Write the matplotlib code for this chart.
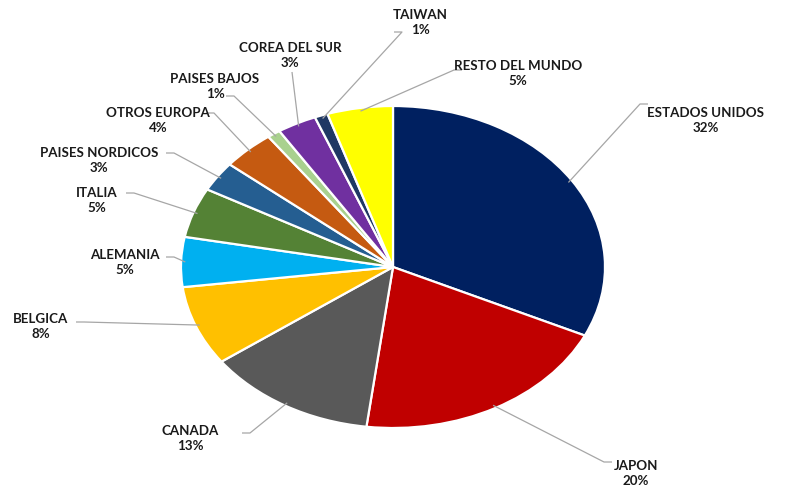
import numpy as np
import matplotlib
matplotlib.use("Agg")
import matplotlib.pyplot as plt

labels = ["ESTADOS UNIDOS", "JAPON", "CANADA", "BELGICA", "ALEMANIA", "ITALIA",
          "PAISES NORDICOS", "OTROS EUROPA", "PAISES BAJOS", "COREA DEL SUR",
          "TAIWAN", "RESTO DEL MUNDO"]
values = [32, 20, 13, 8, 5, 5, 3, 4, 1, 3, 1, 5]
colors = ["#002060", "#C00000", "#595959", "#FFC000", "#00B0F0", "#548235",
          "#255E91", "#C55A11", "#A9D18E", "#7030A0", "#1F3864", "#FFFF00"]

W, H = 788, 491
fig = plt.figure(figsize=(W / 100, H / 100), dpi=100)
fig.patch.set_facecolor("white")

# pie geometry in pixels (the reference pie is an ellipse)
cx, cy, rx, ry = 393, 267, 212, 161
axp = fig.add_axes([(cx - rx) / W, (H - cy - ry) / H, 2 * rx / W, 2 * ry / H])
axp.pie(values, colors=colors, startangle=90, counterclock=False, radius=1,
        wedgeprops=dict(edgecolor="white", linewidth=1.6))
axp.set_aspect("auto")
axp.set_xlim(-1, 1)
axp.set_ylim(-1, 1)
axp.axis("off")

# overlay axes in pixel coordinates for labels and leader lines
ax = fig.add_axes([0, 0, 1, 1], zorder=5)
ax.set_xlim(0, W)
ax.set_ylim(H, 0)
ax.axis("off")

# label layout: (text center x, first line y, leader end x, leader end y)
layout = {
    "ESTADOS UNIDOS": (706, 112, 648, 104),
    "JAPON": (636, 465, 612, 462),
    "CANADA": (190, 430, 242, 433),
    "BELGICA": (41, 318, 76, 322),
    "ALEMANIA": (125, 254, 166, 257),
    "ITALIA": (97, 192, 126, 193),
    "PAISES NORDICOS": (99, 152, 166, 153),
    "OTROS EUROPA": (158, 112, 206, 113),
    "PAISES BAJOS": (215, 78, 234, 96),
    "COREA DEL SUR": (290, 47, 292, 72),
    "TAIWAN": (420, 14, 402, 32),
    "RESTO DEL MUNDO": (518, 65, 462, 70),
}

total = sum(values)
angle = 90.0
font = dict(family=["Lato", "DejaVu Sans"], fontsize=9.6, fontweight="bold",
            color="#1A1A1A")
for lab, v in zip(labels, values):
    span = 360.0 * v / total
    mid = np.deg2rad(angle - span / 2)
    angle -= span
    tx, ty, ex, ey = layout[lab]
    px = cx + 0.98 * rx * np.cos(mid)
    py = cy - 0.98 * ry * np.sin(mid)
    if lab == "COREA DEL SUR":
        xs, ys = [ex, px], [ey, py]
    elif lab in ("PAISES BAJOS", "TAIWAN"):
        xs, ys = [ex - 8, ex, px], [ey, ey, py]
    else:
        hx = ex + 8 if ex > tx else ex - 8
        xs, ys = [ex, hx, px], [ey, ey, py]
    ax.plot(xs, ys, color="#A6A6A6", lw=0.9, solid_capstyle="butt")
    ax.text(tx, ty + 8.5, f"{lab}\n{v}%", ha="center", va="center",
            linespacing=1.3, **font)

fig.savefig("out.png", dpi=100, facecolor="white")
